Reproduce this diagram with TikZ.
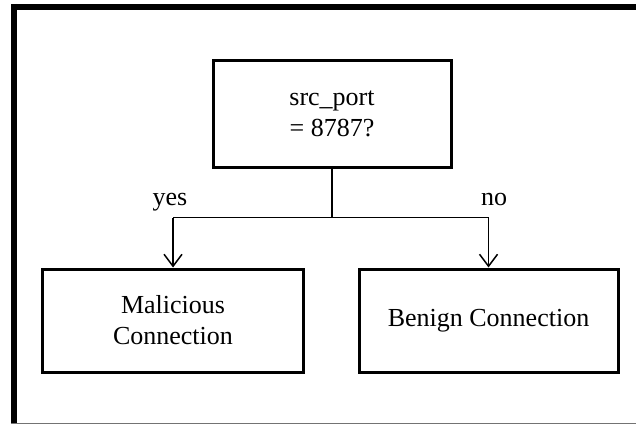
\documentclass[tikz,border=0pt]{standalone}
\usepackage{fontspec}
\setmainfont{Liberation Serif}
\usetikzlibrary{arrows.meta}
\begin{document}
\begin{tikzpicture}[x=1pt,y=-1pt,
  box/.style={draw, line width=3pt, align=center, inner sep=0pt,
    font=\fontsize{26}{31}\selectfont},
  conn/.style={line width=1.5pt},
  arr/.style={conn, -{Straight Barb[length=12pt,width=18pt,line width=1.5pt]}},
  lbl/.style={font=\fontsize{26}{31}\selectfont, anchor=base},
  frame/.style={line width=6pt}]
\useasboundingbox (0,0) rectangle (636,425);
% outer frame
\draw[frame] (11,7) -- (636,7);
\draw[frame] (14,4) -- (14,423);
\draw[line width=1.2pt, black!55] (11,423.5) -- (636,423.5);
% nodes
\node[box, minimum width=238pt, minimum height=106pt] (top) at (332,114) {src\_port\\= 8787?};
\node[box, minimum width=261pt, minimum height=103pt] (mal) at (173,320.5) {Malicious\\Connection};
\node[box, minimum width=259pt, minimum height=103pt] (ben) at (488.5,320.5) {Benign Connection};
% connectors
\coordinate (j) at (332,217.5);
\coordinate (jl) at (173,217.5);
\coordinate (jr) at (488.5,217.5);
\draw[conn] (top.south) -- (j);
\draw[conn] (jl) -- (jr);
\draw[arr] (jl) -- (mal.north);
\draw[arr] (jr) -- (ben.north);
% labels
\node[lbl] (yes) at (170,205) {yes};
\node[lbl] (no) at (494,205) {no};
\end{tikzpicture}
\end{document}
